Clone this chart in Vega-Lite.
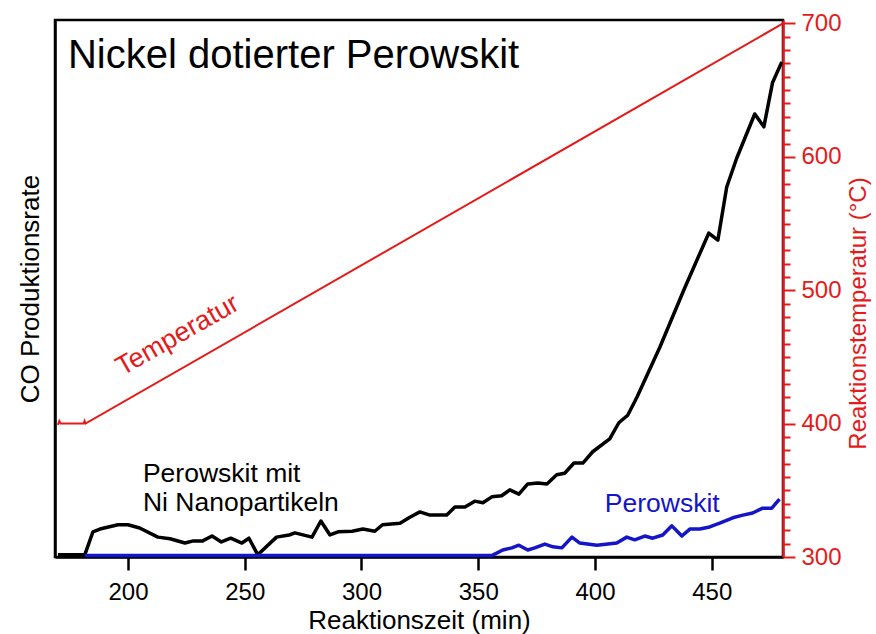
{
  "$schema": "https://vega.github.io/schema/vega-lite/v6.json",
  "width": 728,
  "height": 537,
  "autosize": {"type": "none"},
  "padding": {"left": 55, "top": 20, "right": 93, "bottom": 77},
  "background": "white",
  "config": {
    "font": "Liberation Sans",
    "view": {"stroke": "black", "strokeWidth": 2.5},
    "axis": {"grid": false, "labelFlush": false, "labelOverlap": false, "titleFontWeight": "normal"}
  },
  "datasets": {
    "ni": [
      {"t": 170, "co": 0.4}, {"t": 181.5, "co": 0.4}, {"t": 185, "co": 4.7}, {"t": 188, "co": 5.2},
      {"t": 195.7, "co": 6.0}, {"t": 200, "co": 6.0}, {"t": 205, "co": 5.4}, {"t": 212.8, "co": 3.7},
      {"t": 218, "co": 3.4}, {"t": 224.4, "co": 2.6}, {"t": 228, "co": 3.0}, {"t": 232, "co": 3.0},
      {"t": 236, "co": 3.9}, {"t": 240, "co": 2.8}, {"t": 244, "co": 3.5}, {"t": 248.8, "co": 2.6},
      {"t": 251.8, "co": 3.5}, {"t": 255.6, "co": 0.4}, {"t": 263.6, "co": 3.7}, {"t": 269, "co": 4.1},
      {"t": 271.5, "co": 4.5}, {"t": 278.8, "co": 3.7}, {"t": 282.6, "co": 6.7}, {"t": 286.5, "co": 4.1},
      {"t": 290, "co": 4.7}, {"t": 296, "co": 4.8}, {"t": 300.6, "co": 5.2}, {"t": 305.7, "co": 4.8},
      {"t": 309, "co": 6.0}, {"t": 316.5, "co": 6.3}, {"t": 320.7, "co": 7.4}, {"t": 325, "co": 8.4},
      {"t": 329.3, "co": 7.8}, {"t": 336.5, "co": 7.8}, {"t": 340, "co": 9.3}, {"t": 344.3, "co": 9.3},
      {"t": 348.5, "co": 10.4}, {"t": 352, "co": 10.1}, {"t": 355.8, "co": 11.2}, {"t": 360, "co": 11.4},
      {"t": 363.5, "co": 12.5}, {"t": 367.4, "co": 11.7}, {"t": 371.2, "co": 13.6}, {"t": 375.5, "co": 13.8},
      {"t": 379.4, "co": 13.6}, {"t": 383.6, "co": 15.3}, {"t": 387, "co": 15.6}, {"t": 391, "co": 17.5},
      {"t": 394.8, "co": 17.5}, {"t": 399, "co": 19.6}, {"t": 406.3, "co": 22.0}, {"t": 410.2, "co": 25.0},
      {"t": 414, "co": 26.4}, {"t": 418, "co": 29.8}, {"t": 427.8, "co": 39.1}, {"t": 433, "co": 44.5},
      {"t": 438.4, "co": 50.1}, {"t": 448.7, "co": 60.3}, {"t": 452.6, "co": 59.0}, {"t": 456.4, "co": 68.9},
      {"t": 460.7, "co": 74.3}, {"t": 468.4, "co": 82.5}, {"t": 472.3, "co": 80.1}, {"t": 476, "co": 88.3},
      {"t": 480, "co": 92.2}
    ],
    "pero": [
      {"t": 181.5, "co": 0.3}, {"t": 356, "co": 0.3}, {"t": 360.5, "co": 1.3}, {"t": 364.4, "co": 1.7},
      {"t": 367.4, "co": 2.2}, {"t": 371.2, "co": 1.3}, {"t": 374.2, "co": 1.7}, {"t": 378.5, "co": 2.4},
      {"t": 382, "co": 1.9}, {"t": 385.8, "co": 1.7}, {"t": 390.1, "co": 3.7}, {"t": 393.5, "co": 2.6},
      {"t": 400.8, "co": 2.2}, {"t": 409.3, "co": 2.6}, {"t": 413.6, "co": 3.7}, {"t": 417, "co": 3.2},
      {"t": 421.3, "co": 3.9}, {"t": 424.7, "co": 3.5}, {"t": 429, "co": 4.1}, {"t": 432.9, "co": 5.8},
      {"t": 437.2, "co": 3.9}, {"t": 440.6, "co": 5.2}, {"t": 444.9, "co": 5.2}, {"t": 449.1, "co": 5.6},
      {"t": 453.4, "co": 6.3}, {"t": 459, "co": 7.3}, {"t": 463.3, "co": 7.8}, {"t": 467.5, "co": 8.2},
      {"t": 471.8, "co": 9.1}, {"t": 475.7, "co": 9.1}, {"t": 479, "co": 10.8}
    ],
    "temp": [
      {"t": 170, "T": 399}, {"t": 170.6, "T": 402}, {"t": 171.2, "T": 400}, {"t": 181, "T": 400},
      {"t": 181.4, "T": 402}, {"t": 181.8, "T": 400}, {"t": 480.5, "T": 700}
    ],
    "titleText": [{"t": 174.3, "co": 91.1, "label": "Nickel dotierter Perowskit"}],
    "niText": [
      {"t": 206.4, "co": 14.0, "label": "Perowskit mit"},
      {"t": 206.4, "co": 8.6, "label": "Ni Nanopartikeln"}
    ],
    "peroText": [{"t": 404.2, "co": 8.4, "label": "Perowskit"}],
    "tempText": [{"t": 197.5, "T": 435.5, "label": "Temperatur"}]
  },
  "layer": [
    {
      "layer": [
        {
          "data": {"name": "ni"},
          "mark": {"type": "line", "color": "black", "strokeWidth": 3.5, "strokeJoin": "round"},
          "encoding": {
            "x": {
              "field": "t", "type": "quantitative",
              "scale": {"domain": [168.75, 480.5], "nice": false, "zero": false},
              "axis": {
                "values": [200, 250, 300, 350, 400, 450],
                "title": "Reaktionszeit (min)", "titleFontSize": 26, "titleColor": "black", "titlePadding": 3,
                "labelFontSize": 24, "labelColor": "black", "labelPadding": 10, "labelOverlap": false,
                "tickSize": 13, "tickWidth": 2.5, "tickColor": "black",
                "domainColor": "black", "domainWidth": 2.5
              }
            },
            "y": {
              "field": "co", "type": "quantitative",
              "scale": {"domain": [0, 100], "nice": false, "zero": false},
              "axis": {
                "title": "CO Produktionsrate", "titleFontSize": 26, "titleColor": "black", "titlePadding": 12,
                "labels": false, "ticks": false, "domainColor": "black", "domainWidth": 2.5
              }
            }
          }
        },
        {
          "data": {"name": "pero"},
          "mark": {"type": "line", "color": "#1414c8", "strokeWidth": 3.5, "strokeJoin": "round"},
          "encoding": {
            "x": {"field": "t", "type": "quantitative"},
            "y": {"field": "co", "type": "quantitative"}
          }
        },
        {
          "data": {"name": "titleText"},
          "mark": {"type": "text", "fontSize": 40, "align": "left", "baseline": "alphabetic", "color": "black"},
          "encoding": {
            "x": {"field": "t", "type": "quantitative"},
            "y": {"field": "co", "type": "quantitative"},
            "text": {"field": "label"}
          }
        },
        {
          "data": {"name": "niText"},
          "mark": {"type": "text", "fontSize": 26.5, "align": "left", "baseline": "alphabetic", "color": "black"},
          "encoding": {
            "x": {"field": "t", "type": "quantitative"},
            "y": {"field": "co", "type": "quantitative"},
            "text": {"field": "label"}
          }
        },
        {
          "data": {"name": "peroText"},
          "mark": {"type": "text", "fontSize": 26.5, "align": "left", "baseline": "alphabetic", "color": "#1414c8"},
          "encoding": {
            "x": {"field": "t", "type": "quantitative"},
            "y": {"field": "co", "type": "quantitative"},
            "text": {"field": "label"}
          }
        }
      ]
    },
    {
      "layer": [
        {
          "data": {"name": "temp"},
          "mark": {"type": "line", "color": "#e41b1b", "strokeWidth": 2},
          "encoding": {
            "x": {"field": "t", "type": "quantitative"},
            "y": {
              "field": "T", "type": "quantitative",
              "scale": {"domain": [300, 702.6], "nice": false, "zero": false},
              "axis": {
                "orient": "right",
                "values": [300, 310, 320, 330, 340, 350, 360, 370, 380, 390, 400, 410, 420, 430, 440, 450, 460, 470, 480, 490, 500, 510, 520, 530, 540, 550, 560, 570, 580, 590, 600, 610, 620, 630, 640, 650, 660, 670, 680, 690, 700],
                "tickCount": 100,
                "labelExpr": "datum.value % 100 === 0 ? datum.label : ''",
                "labelOverlap": false,
                "tickSize": {"condition": {"test": "datum.value % 100 === 0", "value": 12}, "value": 7},
                "tickColor": "#e41b1b", "tickWidth": 2,
                "domainColor": "#e41b1b", "domainWidth": 2.5,
                "labelColor": "#e41b1b", "labelFontSize": 24, "labelPadding": 6,
                "title": "Reaktionstemperatur (°C)", "titleColor": "#e41b1b", "titleFontSize": 24,
                "titleAngle": 270, "titleBaseline": "top", "titlePadding": 5,
                "titleAlign": "center", "titleY": 293
              }
            }
          }
        },
        {
          "data": {"name": "tempText"},
          "mark": {"type": "text", "fontSize": 27, "align": "left", "baseline": "alphabetic", "color": "#e41b1b", "angle": 330.3},
          "encoding": {
            "x": {"field": "t", "type": "quantitative"},
            "y": {"field": "T", "type": "quantitative"},
            "text": {"field": "label"}
          }
        }
      ]
    }
  ],
  "resolve": {"scale": {"y": "independent"}}
}
